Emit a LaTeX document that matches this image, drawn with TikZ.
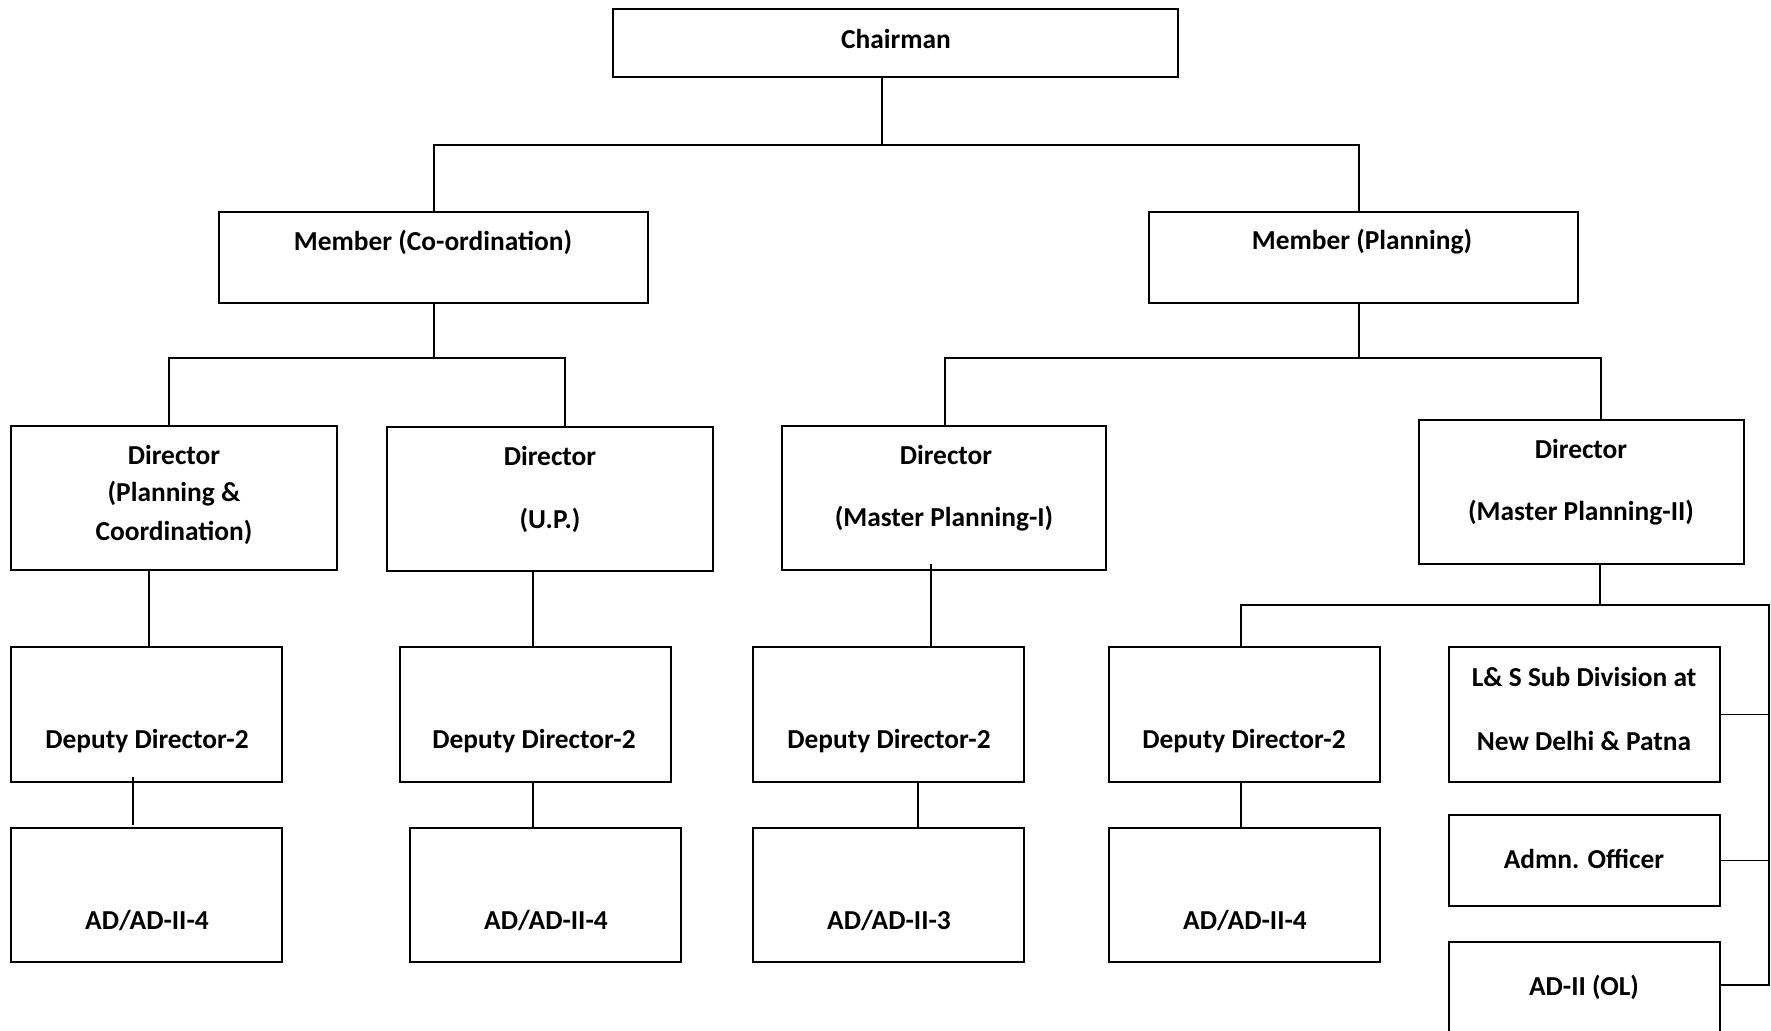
\documentclass[tikz,border=0pt]{standalone}
\usepackage{fontspec}
\setmainfont{Carlito}
\usetikzlibrary{fit}
\begin{document}
\begin{tikzpicture}[x=0.5pt,y=-0.5pt,
  box/.style={draw,line width=1.1pt,inner sep=0pt},
  conn/.style={line width=0.75pt},
  lbl/.style={font=\bfseries\fontsize{13.7}{16}\selectfont,inner sep=0pt,anchor=center}]
\useasboundingbox (0,0) rectangle (1771,1030);
% boxes
\node[box,fit={(613,9) (1178,77)}] (chair) {};
\node[box,fit={(219,212) (648,303)}] (memC) {};
\node[box,fit={(1149,212) (1578,303)}] (memP) {};
\node[box,fit={(11,426) (337,570)}] (dPC) {};
\node[box,fit={(387,427) (713,571)}] (dUP) {};
\node[box,fit={(782,426) (1106,570)}] (dMA) {};
\node[box,fit={(1419,420) (1744,564)}] (dMB) {};
\node[box,fit={(11,647) (282,782)}] (ddA) {};
\node[box,fit={(400,647) (671,782)}] (ddB) {};
\node[box,fit={(753,647) (1024,782)}] (ddC) {};
\node[box,fit={(1109,647) (1380,782)}] (ddD) {};
\node[box,fit={(1449,647) (1720,782)}] (ls) {};
\node[box,fit={(1449,815) (1720,906)}] (adm) {};
\node[box,fit={(1449,942) (1720,1040)}] (ol) {};
\node[box,fit={(11,828) (282,962)}] (adA) {};
\node[box,fit={(410,828) (681,962)}] (adB) {};
\node[box,fit={(753,828) (1024,962)}] (adC) {};
\node[box,fit={(1109,828) (1380,962)}] (adD) {};
% texts
\node[lbl] (tchair) at (896,39) {Chairman};
\node[lbl] (tmemC) at (433,242) {Member (Co-ordination)};
\node[lbl] (tmemP) at (1362,242) {Member (Planning)};
\node[lbl] (tdPCa) at (174,455) {Director};
\node[lbl] (tdPCb) at (174,494) {(Planning \&};
\node[lbl] (tdPCc) at (174,532) {Coordination)};
\node[lbl] (tdUPa) at (550,456) {Director};
\node[lbl] (tdUPb) at (550,520) {(U.P.)};
\node[lbl] (tdMAa) at (946,455) {Director};
\node[lbl] (tdMAb) at (944,519) {(Master Planning-I)};
\node[lbl] (tdMBa) at (1581,449) {Director};
\node[lbl] (tdMBb) at (1581,513) {(Master Planning-II)};
\node[lbl] (tddA) at (147,741) {Deputy Director-2};
\node[lbl] (tddB) at (534,741) {Deputy Director-2};
\node[lbl] (tddC) at (889,741) {Deputy Director-2};
\node[lbl] (tddD) at (1244,741) {Deputy Director-2};
\node[lbl] (tlsa) at (1584,677) {L\& S Sub Division at};
\node[lbl] (tlsb) at (1584,741) {New Delhi \& Patna};
\node[lbl] (tadm) at (1584,859) {Admn. Officer};
\node[lbl] (tol) at (1584,987) {AD-II (OL)};
\node[lbl] (tadA) at (147,920) {AD/AD-II-4};
\node[lbl] (tadB) at (546,920) {AD/AD-II-4};
\node[lbl] (tadC) at (889,920) {AD/AD-II-3};
\node[lbl] (tadD) at (1245,920) {AD/AD-II-4};
% junction coordinates
\coordinate (j0) at (882,145);
\coordinate (jA) at (434,145);
\coordinate (jB) at (1359,145);
\coordinate (k0) at (434,358);
\coordinate (kA) at (169,358);
\coordinate (kB) at (565,358);
\coordinate (m0) at (1359,358);
\coordinate (mA) at (945,358);
\coordinate (mB) at (1601,358);
\coordinate (n0) at (1600,605);
\coordinate (nA) at (1241,605);
\coordinate (nB) at (1769,605);
\coordinate (nE) at (1769,985);
\coordinate (sA) at (149,0);
\coordinate (sB) at (533,0);
\coordinate (sC) at (931,564);
\coordinate (tA) at (133,777);
\coordinate (tA2) at (133,825);
\coordinate (tC) at (918,0);
% connectors
\draw[conn] (j0 |- chair.south) -- (j0);
\draw[conn] (jA |- memC.north) -- (jA) -- (jB) -- (jB |- memP.north);
\draw[conn] (k0 |- memC.south) -- (k0);
\draw[conn] (kA |- dPC.north) -- (kA) -- (kB) -- (kB |- dUP.north);
\draw[conn] (m0 |- memP.south) -- (m0);
\draw[conn] (mA |- dMA.north) -- (mA) -- (mB) -- (mB |- dMB.north);
\draw[conn] (sA |- dPC.south) -- (sA |- ddA.north);
\draw[conn] (sB |- dUP.south) -- (sB |- ddB.north);
\draw[conn] (sC) -- (sC |- ddC.north);
\draw[conn] (n0 |- dMB.south) -- (n0);
\draw[conn] (nA |- ddD.north) -- (nA) -- (nB) -- (nE) -- (nE -| ol.east);
\draw[conn] (nB |- ls.east) -- (ls.east);
\draw[conn] (nB |- adm.east) -- (adm.east);
\draw[conn] (tA) -- (tA2);
\draw[conn] (sB |- ddB.south) -- (sB |- adB.north);
\draw[conn] (tC |- ddC.south) -- (tC |- adC.north);
\draw[conn] (nA |- ddD.south) -- (nA |- adD.north);
\end{tikzpicture}
\end{document}
